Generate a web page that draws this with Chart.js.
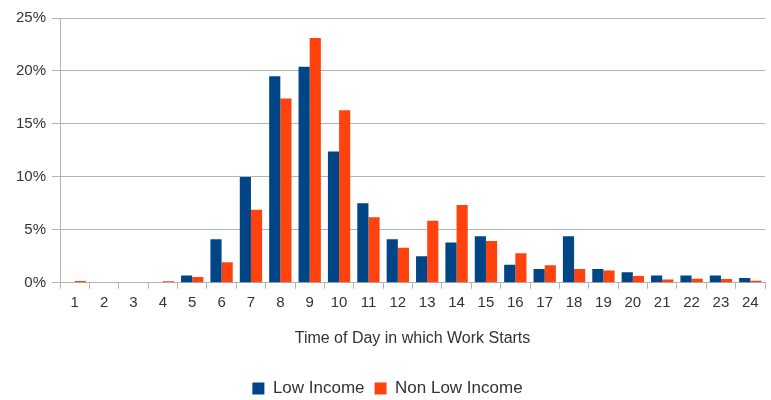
<!DOCTYPE html>
<html>
<head>
<meta charset="utf-8">
<script src="https://cdn.jsdelivr.net/npm/chart.js@4/dist/chart.umd.min.js"></script>
<style>
  html, body { margin: 0; padding: 0; background: #fff; }
  #wrap { position: relative; width: 771px; height: 400px; }
</style>
</head>
<body>
<div id="wrap"><canvas id="chart"></canvas></div>
<script>
// Share of trips by start hour (percent)
const hours = ['1','2','3','4','5','6','7','8','9','10','11','12','13','14','15','16','17','18','19','20','21','22','23','24'];
const lowIncome = [0, 0, 0, 0, 0.7, 4.1, 10.0, 19.5, 20.4, 12.4, 7.5, 4.1, 2.5, 3.8, 4.4, 1.7, 1.3, 4.4, 1.3, 1.0, 0.7, 0.7, 0.7, 0.45];
const nonLowIncome = [0.16, 0.05, 0, 0.15, 0.55, 1.95, 6.9, 17.4, 23.1, 16.3, 6.2, 3.3, 5.85, 7.35, 3.95, 2.8, 1.65, 1.3, 1.15, 0.65, 0.3, 0.38, 0.35, 0.2];
const yTicks = [0, 5, 10, 15, 20, 25];

const BLUE = '#004586';
const ORANGE = '#ff420e';
const GRID = '#b3b3b3';
const TEXT = '#333333';
const FONT = "'Liberation Sans', Arial, sans-serif";

new Chart(document.getElementById('chart').getContext('2d'), {
  type: 'bar',
  data: {
    labels: hours,
    datasets: [
      { label: 'Low Income', data: lowIncome, backgroundColor: BLUE, borderWidth: 0 },
      { label: 'Non Low Income', data: nonLowIncome, backgroundColor: ORANGE, borderWidth: 0 },
    ],
  },
  options: {
    responsive: true, maintainAspectRatio: false, animation: false,
    layout: { padding: { left: 10, right: 6, top: 18, bottom: -7 } },
    datasets: { bar: { categoryPercentage: 0.76, barPercentage: 1.0 } },
    plugins: {
      legend: {
        position: 'bottom',
        labels: { color: TEXT, font: { family: FONT, size: 17 }, boxWidth: 12, boxHeight: 12, padding: 10 },
      },
      tooltip: { enabled: false },
    },
    scales: {
      x: {
        grid: { display: true, drawOnChartArea: false, drawTicks: true, tickLength: 6, color: GRID, lineWidth: 1 },
        border: { color: GRID },
        ticks: { color: TEXT, font: { family: FONT, size: 15 }, padding: 5, maxRotation: 0, autoSkip: false },
        title: { display: true, text: 'Time of Day in which Work Starts', color: TEXT, font: { family: FONT, size: 16 }, padding: { top: 12, bottom: 22 } },
      },
      y: {
        min: 0, max: 25,
        afterBuildTicks: (axis) => { axis.ticks = yTicks.map(v => ({ value: v })); },
        grid: { color: GRID, lineWidth: 1, drawTicks: true, tickLength: 8 },
        border: { color: GRID },
        ticks: { color: TEXT, font: { family: FONT, size: 15 }, padding: 6, callback: (v) => v + '%' },
      },
    },
  },
});
</script>
</body>
</html>
